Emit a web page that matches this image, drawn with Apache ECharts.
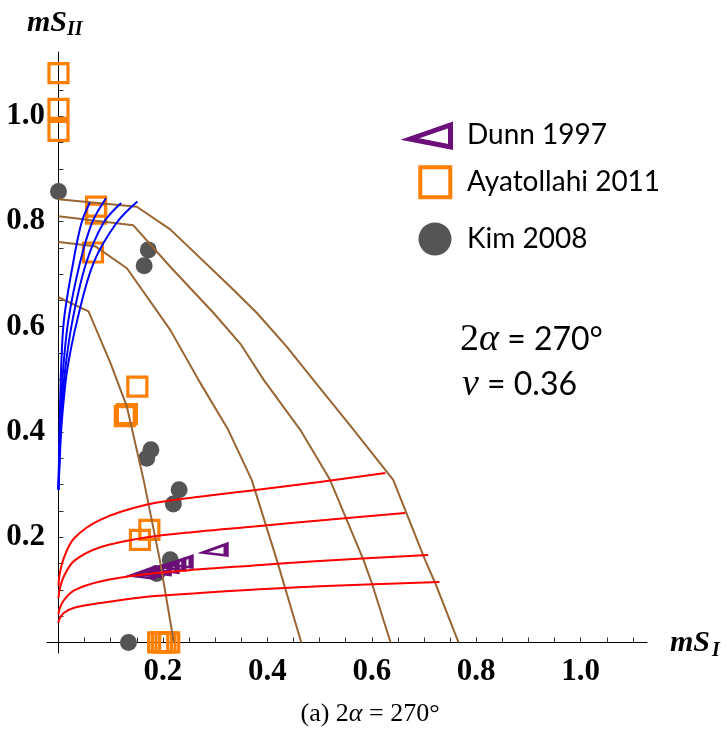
<!DOCTYPE html>
<html>
<head>
<meta charset="utf-8">
<script src="https://cdn.jsdelivr.net/npm/echarts@6/dist/echarts.min.js"></script>
<style>
  html, body { margin: 0; padding: 0; background: #ffffff; }
  #chart { width: 726px; height: 737px; }
</style>
</head>
<body>
<div id="chart"></div>
<script>
// Tick marks and labelled ticks on both axes
const xLabelValues = [0.2, 0.4, 0.6, 0.8, 1.0];
const yLabelValues = [0.2, 0.4, 0.6, 0.8, 1.0];
const xTickValues = [0.05, 0.1, 0.15, 0.2, 0.25, 0.3, 0.35, 0.4, 0.45, 0.5, 0.55, 0.6, 0.65, 0.7, 0.75, 0.8, 0.85, 0.9, 0.95, 1.0, 1.05, 1.1];
const yTickValues = [0.05, 0.1, 0.15, 0.2, 0.25, 0.3, 0.35, 0.4, 0.45, 0.5, 0.55, 0.6, 0.65, 0.7, 0.75, 0.8, 0.85, 0.9, 0.95, 1.0, 1.05, 1.1];

// Experimental data sets [mS_I, mS_II]
const dunnPoints = [[0.299, 0.176], [0.160, 0.132], [0.175, 0.135], [0.190, 0.139], [0.205, 0.143], [0.218, 0.148], [0.232, 0.153]];
const ayatollahiPoints = [[0, 1.082], [0, 1.014], [0, 0.972], [0.072, 0.828], [0.072, 0.815], [0.066, 0.741], [0.151, 0.486], [0.131, 0.434], [0.127, 0.430], [0.174, 0.214], [0.156, 0.195], [0.191, 0], [0.198, 0], [0.205, 0], [0.212, 0]];
const kimPoints = [[0, 0.857], [0.172, 0.746], [0.164, 0.716], [0.177, 0.366], [0.169, 0.350], [0.231, 0.290], [0.220, 0.263], [0.214, 0.157], [0.188, 0.131], [0.134, 0]];

// Fracture envelopes (brown)
const brownA = [[0, 0.842], [0.150, 0.828], [0.214, 0.785], [0.329, 0.676], [0.380, 0.626], [0.437, 0.562], [0.488, 0.499], [0.558, 0.413], [0.641, 0.309], [0.702, 0.157], [0.721, 0.114], [0.766, 0]];
const brownB = [[0, 0.810], [0.143, 0.793], [0.214, 0.714], [0.297, 0.626], [0.348, 0.568], [0.393, 0.499], [0.463, 0.404], [0.520, 0.309], [0.584, 0.157], [0.600, 0.113], [0.636, 0]];
const brownC = [[0, 0.761], [0.070, 0.753], [0.131, 0.711], [0.214, 0.594], [0.268, 0.499], [0.325, 0.404], [0.370, 0.309], [0.418, 0.157], [0.465, 0]];
const brownD = [[0, 0.656], [0.0575, 0.629], [0.0996, 0.531], [0.131, 0.448], [0.163, 0.309], [0.194, 0.157], [0.221, 0]];

// Mode-II dominated curves (blue)
const blue1 = [[0, 0.29], [0.001, 0.35], [0.002, 0.40], [0.003, 0.45], [0.005, 0.52], [0.0105, 0.613], [0.028, 0.721], [0.044, 0.797], [0.060, 0.836]];
const blue2 = [[0, 0.29], [0.0015, 0.35], [0.003, 0.40], [0.005, 0.45], [0.009, 0.52], [0.019, 0.613], [0.041, 0.721], [0.064, 0.797], [0.091, 0.844]];
const blue3 = [[0, 0.29], [0.002, 0.35], [0.004, 0.40], [0.007, 0.45], [0.013, 0.52], [0.027, 0.613], [0.053, 0.721], [0.086, 0.797], [0.120, 0.835]];
const blue4 = [[0, 0.29], [0.0025, 0.35], [0.005, 0.40], [0.009, 0.45], [0.017, 0.52], [0.036, 0.613], [0.067, 0.721], [0.111, 0.797], [0.151, 0.838]];

// Mode-I dominated curves (red)
const red1 = [[0, 0.108], [0.002, 0.128], [0.01, 0.160], [0.03, 0.198], [0.08, 0.233], [0.17, 0.262], [0.27, 0.277], [0.37, 0.289], [0.5, 0.305], [0.626, 0.322]];
const red2 = [[0, 0.084], [0.002, 0.100], [0.01, 0.125], [0.03, 0.155], [0.08, 0.181], [0.17, 0.200], [0.27, 0.211], [0.37, 0.220], [0.5, 0.232], [0.664, 0.246]];
const red3 = [[0, 0.053], [0.002, 0.064], [0.01, 0.080], [0.03, 0.099], [0.08, 0.116], [0.17, 0.130], [0.27, 0.139], [0.37, 0.146], [0.5, 0.155], [0.708, 0.166]];
const red4 = [[0, 0.037], [0.002, 0.045], [0.01, 0.056], [0.03, 0.066], [0.08, 0.075], [0.17, 0.087], [0.27, 0.094], [0.37, 0.100], [0.5, 0.107], [0.7295, 0.1147]];

const PURPLE = '#6c0f7a';
const ORANGE = '#ff7f00';
const GRAY = '#555555';
const BROWN = '#996633';
const SERIF = '"Liberation Serif", "Times New Roman", serif';
const SANS = 'Lato, "Open Sans", sans-serif';

const chart = echarts.init(document.getElementById('chart'), null, { renderer: 'canvas' });

function curve(data, color) {
  return {
    type: 'line',
    data: data,
    showSymbol: false,
    symbol: 'none',
    smooth: false,
    silent: true,
    clip: false,
    lineStyle: { color: color, width: 2 },
    z: 5
  };
}
function smoothCurve(data, color) {
  const s = curve(data, color);
  s.smooth = 0.35;
  return s;
}

const axisLabelStyle = {
  fontFamily: SERIF,
  fontWeight: 'bold',
  fontSize: 31,
  color: '#000'
};

const option = {
  animation: false,
  backgroundColor: '#ffffff',
  grid: { left: 47, right: 79, top: 52, bottom: 84, containLabel: false },
  xAxis: {
    type: 'value',
    min: -0.022,
    max: 1.127,
    axisLine: { onZero: true, lineStyle: { color: '#000', width: 1 } },
    axisTick: { inside: true, length: 5, customValues: xTickValues, lineStyle: { color: '#333' } },
    axisLabel: Object.assign({ customValues: xLabelValues, margin: 3, formatter: v => v.toFixed(1) }, axisLabelStyle),
    splitLine: { show: false }
  },
  yAxis: {
    type: 'value',
    min: -0.02,
    max: 1.122,
    axisLine: { onZero: true, lineStyle: { color: '#000', width: 1 } },
    axisTick: { inside: true, length: 5, customValues: yTickValues, lineStyle: { color: '#333' } },
    axisLabel: Object.assign({ customValues: yLabelValues, margin: 2, formatter: v => v.toFixed(1) }, axisLabelStyle),
    splitLine: { show: false }
  },
  series: [
    {
      name: 'Kim 2008', type: 'scatter', data: kimPoints, symbol: 'circle', symbolSize: 17,
      itemStyle: { color: GRAY, opacity: 1 }, clip: false, silent: true, z: 2
    },
    {
      name: 'Ayatollahi 2011', type: 'scatter', data: ayatollahiPoints, symbol: 'rect', symbolSize: 19,
      itemStyle: { color: 'rgba(0,0,0,0)', borderColor: ORANGE, borderWidth: 3.2, opacity: 1 }, clip: false, silent: true, z: 3
    },
    {
      name: 'Dunn 1997', type: 'scatter', data: dunnPoints,
      symbol: 'path://M0,9 L20,0 L20,12 Z', symbolSize: [23, 11],
      itemStyle: { color: 'rgba(0,0,0,0)', borderColor: PURPLE, borderWidth: 3.6, opacity: 1 }, clip: false, silent: true, z: 4
    },
    curve(brownA, BROWN), curve(brownB, BROWN), curve(brownC, BROWN), curve(brownD, BROWN),
    smoothCurve(red1, '#ff0000'), smoothCurve(red2, '#ff0000'), smoothCurve(red3, '#ff0000'), smoothCurve(red4, '#ff0000'),
    smoothCurve(blue1, '#0000ff'), smoothCurve(blue2, '#0000ff'), smoothCurve(blue3, '#0000ff'), smoothCurve(blue4, '#0000ff')
  ],
  graphic: [
    // axis titles
    { type: 'text', x: 27, y: 23, style: { text: 'mS', fontFamily: SERIF, fontWeight: 'bold', fontStyle: 'italic', fontSize: 30, fill: '#000', verticalAlign: 'middle' } },
    { type: 'text', x: 67, y: 30, style: { text: 'II', fontFamily: SERIF, fontWeight: 'bold', fontStyle: 'italic', fontSize: 20, fill: '#000', verticalAlign: 'middle' } },
    { type: 'text', x: 670, y: 643, style: { text: 'mS', fontFamily: SERIF, fontWeight: 'bold', fontStyle: 'italic', fontSize: 30, fill: '#000', verticalAlign: 'middle' } },
    { type: 'text', x: 712, y: 651, style: { text: 'I', fontFamily: SERIF, fontWeight: 'bold', fontStyle: 'italic', fontSize: 20, fill: '#000', verticalAlign: 'middle' } },

    // legend
    { type: 'polygon', shape: { points: [[410, 139], [450.5, 125], [450.5, 147]] }, style: { fill: 'none', stroke: PURPLE, lineWidth: 5, lineJoin: 'miter' } },
    { type: 'rect', shape: { x: 420.3, y: 167.3, width: 30, height: 30 }, style: { fill: 'none', stroke: ORANGE, lineWidth: 4 } },
    { type: 'circle', shape: { cx: 435, cy: 239, r: 16.5 }, style: { fill: GRAY } },
    { type: 'text', x: 467, y: 135, style: { text: 'Dunn 1997', fontFamily: SANS, fontSize: 28, fill: '#000', verticalAlign: 'middle' } },
    { type: 'text', x: 467, y: 182, style: { text: 'Ayatollahi 2011', fontFamily: SANS, fontSize: 28, fill: '#000', verticalAlign: 'middle' } },
    { type: 'text', x: 467, y: 239, style: { text: 'Kim 2008', fontFamily: SANS, fontSize: 28, fill: '#000', verticalAlign: 'middle' } },

    // parameter annotation
    { type: 'text', x: 460, y: 340, style: {
        text: '{n|2}{g|α}{t| = 270°}', verticalAlign: 'middle',
        rich: {
          n: { fontFamily: SERIF, fontSize: 38, fill: '#000' },
          g: { fontFamily: SERIF, fontStyle: 'italic', fontSize: 38, fill: '#000' },
          t: { fontFamily: SANS, fontSize: 32, fill: '#000' }
        } } },
    { type: 'text', x: 462, y: 385, style: {
        text: '{g|ν}{t| = 0.36}', verticalAlign: 'middle',
        rich: {
          g: { fontFamily: SERIF, fontStyle: 'italic', fontSize: 38, fill: '#000' },
          t: { fontFamily: SANS, fontSize: 32, fill: '#000' }
        } } },

    // caption
    { type: 'text', x: 370, y: 714, style: {
        text: '{r|(a) 2}{i|α}{r| = 270°}', align: 'center', verticalAlign: 'middle',
        rich: {
          r: { fontFamily: SERIF, fontSize: 26, fill: '#000' },
          i: { fontFamily: SERIF, fontStyle: 'italic', fontSize: 26, fill: '#000' }
        } } }
  ]
};

chart.setOption(option);
</script>
</body>
</html>
